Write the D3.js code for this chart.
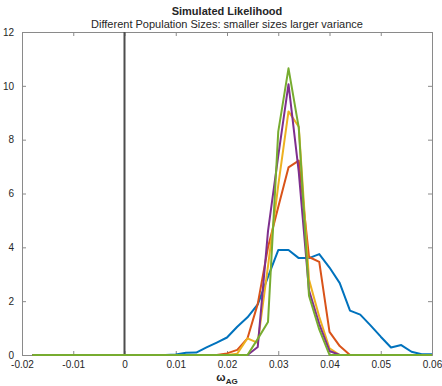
<!DOCTYPE html>
<html>
<head>
<meta charset="utf-8">
<script src="https://cdn.jsdelivr.net/npm/d3@7"></script>
<style>
  body { margin: 0; background: #fff; }
  text { font-family: "Liberation Sans", Arial, sans-serif; fill: #262626; }
</style>
</head>
<body>
<div id="chart"></div>
<script>
// bin centres (omega_AG)
const omega = [-0.018, -0.016, -0.014, -0.012, -0.010, -0.008, -0.006, -0.004, -0.002, 0.000,
  0.002, 0.004, 0.006, 0.008, 0.010, 0.012, 0.014, 0.016, 0.018, 0.020,
  0.022, 0.024, 0.026, 0.028, 0.030, 0.032, 0.034, 0.036, 0.038, 0.040,
  0.042, 0.044, 0.046, 0.048, 0.050, 0.052, 0.054, 0.056, 0.058, 0.060];

// likelihood per population size
const popBlue = [0, 0, 0, 0, 0, 0, 0, 0, 0, 0,
  0, 0, 0, 0, 0.02, 0.08, 0.09, 0.28, 0.46, 0.65,
  1.05, 1.4, 1.88, 2.9, 3.9, 3.9, 3.6, 3.6, 3.75, 3.25,
  2.67, 1.65, 1.5, 1.1, 0.68, 0.28, 0.37, 0.12, 0.03, 0.03];
const popRed = [0, 0, 0, 0, 0, 0, 0, 0, 0, 0,
  0, 0, 0, 0, 0, 0, 0, 0, 0, 0.06,
  0.19, 0.62, 1.9, 4.0, 5.5, 6.97, 7.22, 3.64, 3.46, 0.86,
  0.33, 0, 0, 0, 0, 0, 0, 0, 0, 0];
const popYellow = [0, 0, 0, 0, 0, 0, 0, 0, 0, 0,
  0, 0, 0, 0, 0, 0, 0, 0, 0, 0,
  0.05, 0.62, 0.45, 3.3, 6.3, 9.05, 8.48, 2.8, 1.42, 0.25,
  0, 0, 0, 0, 0, 0, 0, 0, 0, 0];
const popPurple = [0, 0, 0, 0, 0, 0, 0, 0, 0, 0,
  0, 0, 0, 0, 0, 0, 0, 0, 0, 0,
  0, 0, 0.3, 4.6, 7.4, 10.06, 6.8, 2.4, 1.15, 0.15,
  0, 0, 0, 0, 0, 0, 0, 0, 0, 0];
const popGreen = [0, 0, 0, 0, 0, 0, 0, 0, 0, 0,
  0, 0, 0, 0, 0, 0, 0, 0, 0, 0,
  0, 0, 0.6, 1.23, 8.3, 10.65, 8.45, 2.2, 0.95, 0,
  0, 0, 0, 0, 0, 0, 0, 0, 0, 0];

const xTicks = [-0.02, -0.01, 0, 0.01, 0.02, 0.03, 0.04, 0.05, 0.06];
const xTickLabels = ['-0.02', '-0.01', '0', '0.01', '0.02', '0.03', '0.04', '0.05', '0.06'];
const yTicks = [0, 2, 4, 6, 8, 10, 12];
const trueValue = 0;

const series = [
  { values: popBlue, color: '#0072BD' },
  { values: popRed, color: '#D95319' },
  { values: popYellow, color: '#EDB120' },
  { values: popPurple, color: '#7E2F8E' },
  { values: popGreen, color: '#77AC30' }
];

const W = 442, H = 386;
const margin = { top: 32, right: 10, bottom: 31, left: 22 };
const width = W - margin.left - margin.right;
const height = H - margin.top - margin.bottom;

const svg = d3.select('#chart').append('svg')
  .attr('width', W)
  .attr('height', H);

const x = d3.scaleLinear().domain([-0.02, 0.06]).range([0, width]);
const y = d3.scaleLinear().domain([0, 12]).range([height, 0]);

const g = svg.append('g')
  .attr('transform', `translate(${margin.left}, ${margin.top})`);

// titles
svg.append('text')
  .attr('x', margin.left + width / 2).attr('y', 15)
  .attr('text-anchor', 'middle')
  .style('font-size', '11px').style('font-weight', 'bold')
  .text('Simulated Likelihood');
svg.append('text')
  .attr('x', margin.left + width / 2).attr('y', 28)
  .attr('text-anchor', 'middle')
  .style('font-size', '11px')
  .text('Different Population Sizes: smaller sizes larger variance');

// axes, ticks pointing inward, mirrored on top / right
const axisB = g.append('g').attr('transform', `translate(0, ${height})`)
  .call(d3.axisBottom(x).tickValues(xTicks).tickSize(-4).tickPadding(6)
    .tickFormat((d, i) => xTickLabels[i]));
const axisT = g.append('g')
  .call(d3.axisTop(x).tickValues(xTicks).tickSize(-4).tickFormat(''));
const axisL = g.append('g')
  .call(d3.axisLeft(y).tickValues(yTicks).tickSize(-4).tickPadding(8).tickFormat(d3.format('d')));
const axisR = g.append('g').attr('transform', `translate(${width}, 0)`)
  .call(d3.axisRight(y).tickValues(yTicks).tickSize(-4).tickFormat(''));

[axisB, axisT, axisL, axisR].forEach(a => {
  a.select('.domain').attr('stroke', '#8a8a8a').attr('stroke-width', 1);
  a.selectAll('.tick line').attr('stroke', '#8a8a8a');
  a.selectAll('.tick text').style('font-size', '10px').attr('fill', '#262626')
    .style('font-family', '"Liberation Sans", Arial, sans-serif');
});

// x label with subscript
const xl = svg.append('text')
  .attr('x', margin.left + width / 2).attr('y', 381)
  .attr('text-anchor', 'middle')
  .style('font-weight', 'bold');
xl.append('tspan').style('font-size', '11px').text('ω');
xl.append('tspan').style('font-size', '8px').attr('dy', 3).text('AG');

// vertical reference line at the true value
g.append('line')
  .attr('x1', x(trueValue)).attr('x2', x(trueValue))
  .attr('y1', 0).attr('y2', height)
  .attr('stroke', '#4d4d4d').attr('stroke-width', 2);

// likelihood curves
const line = d3.line()
  .x((d, i) => x(omega[i]))
  .y(d => y(d));

series.forEach(s => {
  g.append('path')
    .datum(s.values)
    .attr('fill', 'none')
    .attr('stroke', s.color)
    .attr('stroke-width', 2)
    .attr('stroke-linejoin', 'round')
    .attr('d', line);
});
</script>
</body>
</html>
